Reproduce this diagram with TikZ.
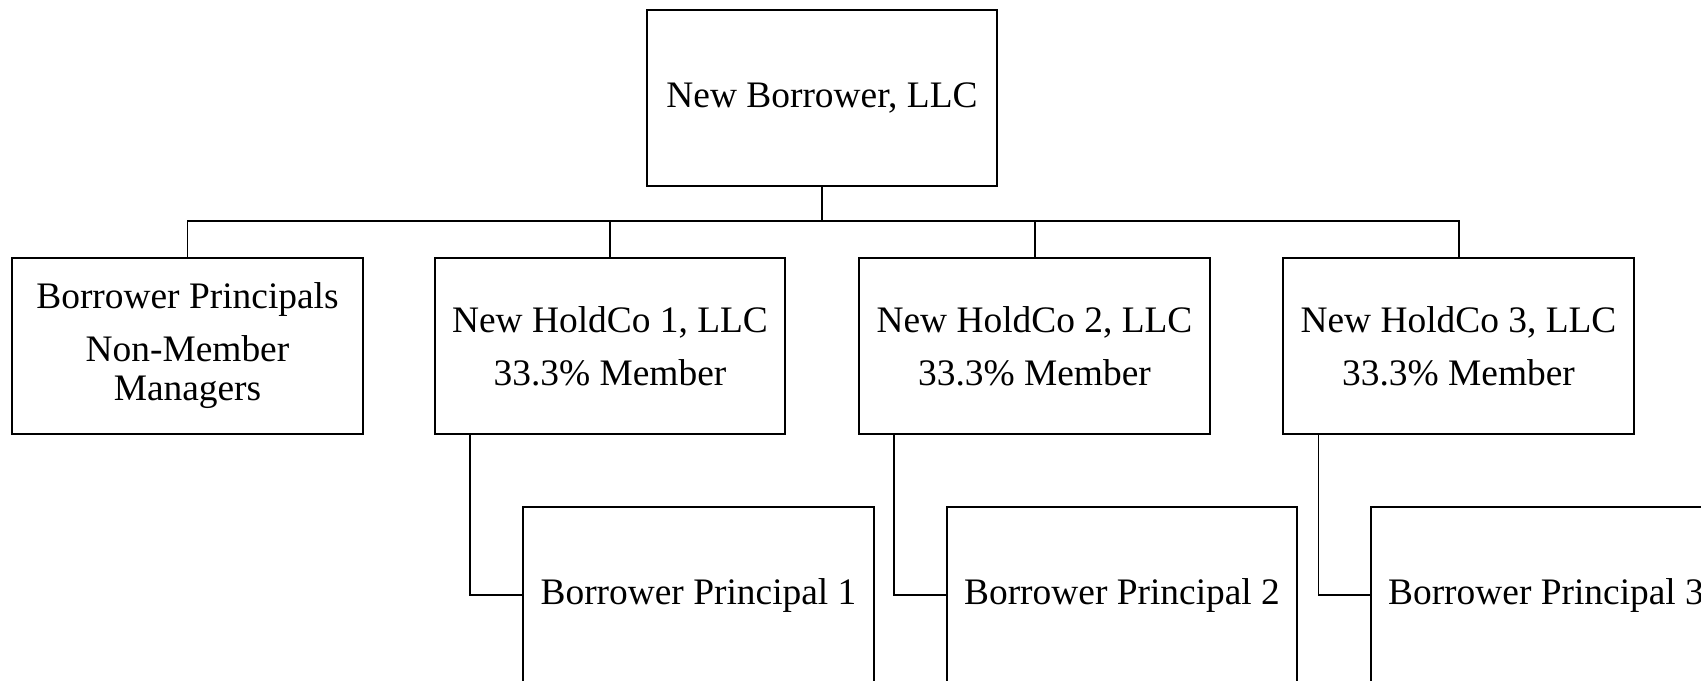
\documentclass[tikz,border=0pt]{standalone}
\usepackage{fontspec}
\setmainfont{Liberation Serif}
\usetikzlibrary{positioning,calc}

\begin{document}
\begin{tikzpicture}[
  x=0.025cm, y=-0.025cm,
  entity/.style={rectangle, draw=black, fill=white, line width=1.4pt,
    minimum width=8.75cm, minimum height=4.4cm, align=center,
    inner sep=0pt, font=\fontsize{26.6}{27.7}\selectfont},
  link/.style={draw=black, line width=1.4pt},
]
  \useasboundingbox (0,0) rectangle (1701,680);
  \clip (0,0) rectangle (1701,680);

  % Top entity
  \node[entity] (top) at (822,98) {New Borrower, LLC};
  \coordinate (bar) at (822,221);

  % Members and managers
  \node[entity] (b0) at (187.5,346)
    {Borrower Principals\\[10pt]Non-Member\\Managers};
  \node[entity] (h1) at (610,346) {New HoldCo 1, LLC\\[10pt]33.3\% Member};
  \node[entity] (h2) at (1034.5,346) {New HoldCo 2, LLC\\[10pt]33.3\% Member};
  \node[entity] (h3) at (1458.5,346) {New HoldCo 3, LLC\\[10pt]33.3\% Member};
  \foreach \n in {b0,h1,h2,h3}
    \draw[link] (top.south) -- (bar) -| (\n.north);

  % Principals
  \node[entity] (p1) at (698.5,595) {Borrower Principal 1};
  \node[entity] (p2) at (1122,595) {Borrower Principal 2};
  \node[entity] (p3) at (1546,595) {Borrower Principal 3};
  \draw[link] (h1.south west) ++(36,0) |- (p1.west);
  \draw[link] (h2.south west) ++(36,0) |- (p2.west);
  \draw[link] (h3.south west) ++(36,0) |- (p3.west);
\end{tikzpicture}
\end{document}
